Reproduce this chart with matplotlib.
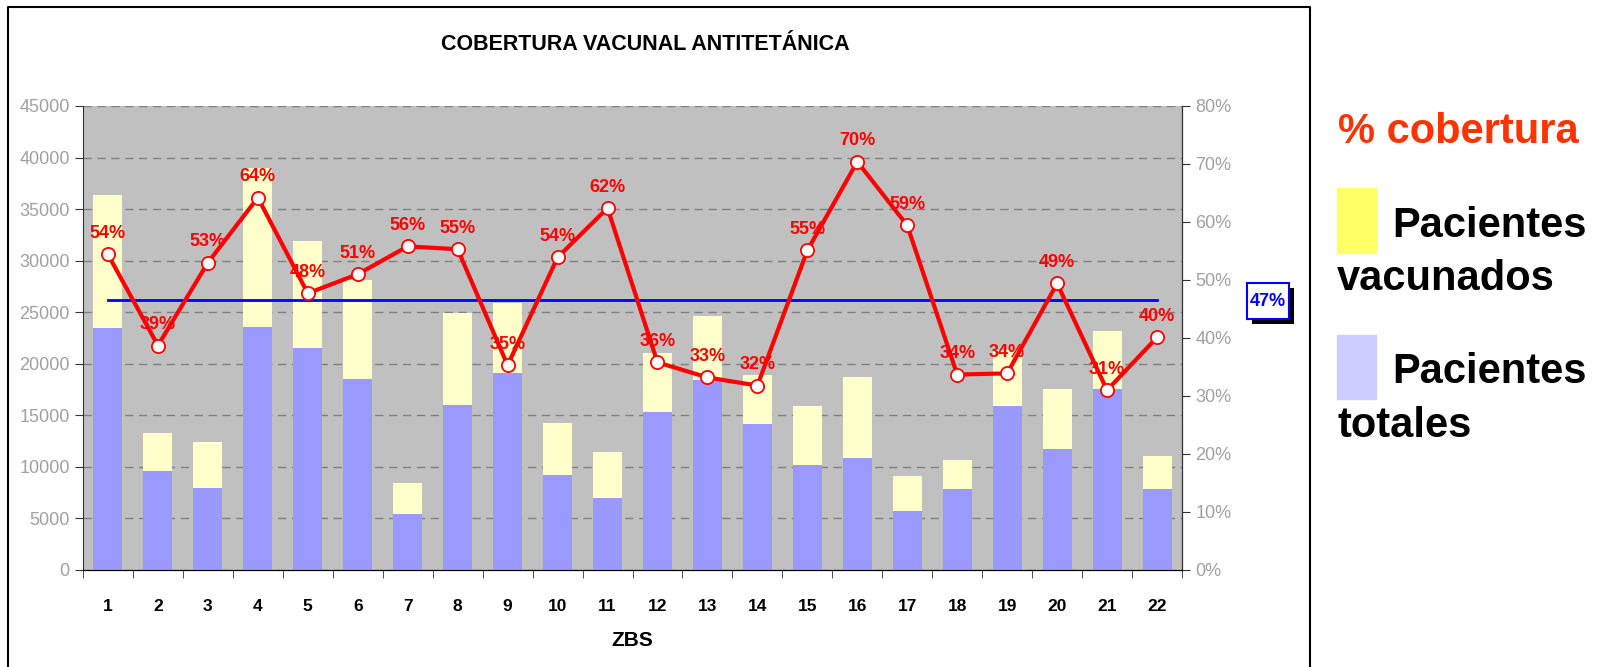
import matplotlib.pyplot as plt
import matplotlib.ticker as mticker
from matplotlib.lines import Line2D

plt.rcParams['font.family'] = ['Liberation Sans', 'DejaVu Sans']

# data
zbs = list(range(1, 23))
vacunados = [36400, 13300, 12400, 39000, 31900, 28100, 8400, 24900, 25900, 14300, 11400,
             21000, 24600, 18900, 15900, 18700, 9100, 10700, 21300, 17600, 23200, 11100]
totales = [23500, 9600, 8000, 23600, 21500, 18500, 5400, 16000, 19100, 9200, 7000,
           15300, 18400, 14200, 10200, 10900, 5700, 7900, 15900, 11700, 17600, 7900]
cobertura = [54.4, 38.7, 53.0, 64.2, 47.7, 51.0, 55.8, 55.3, 35.3, 53.9, 62.4,
             35.8, 33.2, 31.8, 55.1, 70.4, 59.4, 33.7, 33.9, 49.4, 31.0, 40.1]
media = 46.6

W, H = 1604, 667
fig = plt.figure(figsize=(W / 100, H / 100), dpi=100)
ax = fig.add_axes([83 / W, 1 - 570 / H, (1182 - 83) / W, (570 - 106) / H])
ax.set_facecolor('#C0C0C0')

ax.bar(zbs, vacunados, width=0.58, color='#FFFFCC', zorder=2)
ax.bar(zbs, totales, width=0.58, color='#9999FF', zorder=3)
ax.set_xlim(0.5, 22.5)
ax.set_ylim(0, 45000)
ax.set_yticks(range(0, 45001, 5000))
ax.yaxis.grid(True, color='#808080', linestyle=(0, (6, 4)), linewidth=1)
ax.set_axisbelow(True)
ax.set_xticks(zbs)
ax.set_xticklabels([str(z) for z in zbs], fontsize=12.5, fontweight='bold')
ax.set_xticks([z + 0.5 for z in range(0, 23)], minor=True)
ax.tick_params(axis='x', which='major', length=0, pad=21)
ax.tick_params(axis='x', which='minor', length=6, direction='out', color='#333333')
ax.tick_params(axis='y', labelsize=13, labelcolor='#A0A0A0', length=6, color='#333333')
ax.spines['top'].set_visible(False)
ax.spines['left'].set_color('#333333')
ax.spines['bottom'].set_color('#333333')
ax.set_xlabel('ZBS', fontsize=15, fontweight='bold', labelpad=12)

ax2 = ax.twinx()
ax2.set_ylim(0, 80)
ax2.set_yticks(range(0, 81, 10))
ax2.yaxis.set_major_formatter(mticker.FuncFormatter(lambda v, p: f'{int(v)}%'))
ax2.tick_params(axis='y', labelsize=13, labelcolor='#A0A0A0', length=6, color='#333333')
ax2.spines['top'].set_visible(False)
ax2.spines['right'].set_color('#333333')
ax2.spines['left'].set_visible(False)

ax2.plot([zbs[0], zbs[-1]], [media, media], color='#0000FF', lw=2, zorder=4)
ax2.plot(zbs, cobertura, color='#FF0000', lw=3, marker='o', markersize=9.5,
         markerfacecolor='white', markeredgecolor='#FF0000', markeredgewidth=1.3, zorder=5)
for x, v in zip(zbs, cobertura):
    ax2.annotate(f'{round(v)}%', (x, v), xytext=(0, 9), textcoords='offset points',
                 ha='center', va='bottom', color='#FF0000', fontsize=13,
                 fontweight='bold', zorder=6)

fig.text(645 / W, 1 - 45 / H, 'COBERTURA VACUNAL ANTITETÁNICA', ha='center', va='center',
         fontsize=15.5, fontweight='bold')

# average value box with shadow
bx, by, bw, bh = 1247, 283, 42, 36
fig.patches.append(plt.Rectangle(((bx + 5) / W, 1 - (by + bh + 5) / H), bw / W, bh / H,
                                 fc='black', ec='none', transform=fig.transFigure))
fig.patches.append(plt.Rectangle((bx / W, 1 - (by + bh) / H), bw / W, bh / H,
                                 fc='white', ec='#0000FF', lw=1.5, transform=fig.transFigure))
fig.text((bx + bw / 2) / W, 1 - (by + bh / 2) / H, '47%', ha='center', va='center',
         fontsize=13, fontweight='bold', color='#0000FF')

# legend
fig.text(1338 / W, 1 - 143 / H, '% cobertura', fontsize=30, fontweight='bold',
         color='#FF3300', va='baseline', ha='left')
fig.patches.append(plt.Rectangle((1337 / W, 1 - 253 / H), 39 / W, 65 / H, color='#FFFF66',
                                 transform=fig.transFigure))
fig.text(1392 / W, 1 - 237 / H, 'Pacientes', fontsize=30, fontweight='bold', va='baseline')
fig.text(1337 / W, 1 - 290 / H, 'vacunados', fontsize=30, fontweight='bold', va='baseline')
fig.patches.append(plt.Rectangle((1337 / W, 1 - 399 / H), 39 / W, 64 / H, color='#CCCCFF',
                                 transform=fig.transFigure))
fig.text(1392 / W, 1 - 383 / H, 'Pacientes', fontsize=30, fontweight='bold', va='baseline')
fig.text(1337 / W, 1 - 437 / H, 'totales', fontsize=30, fontweight='bold', va='baseline')

# chart frame
fx = [8 / W, 8 / W, 1310 / W, 1310 / W]
fy = [0, 1 - 7 / H, 1 - 7 / H, 0]
fig.lines.append(Line2D(fx, fy, color='black', lw=1.5, transform=fig.transFigure))

fig.savefig('out.png', dpi=100)
